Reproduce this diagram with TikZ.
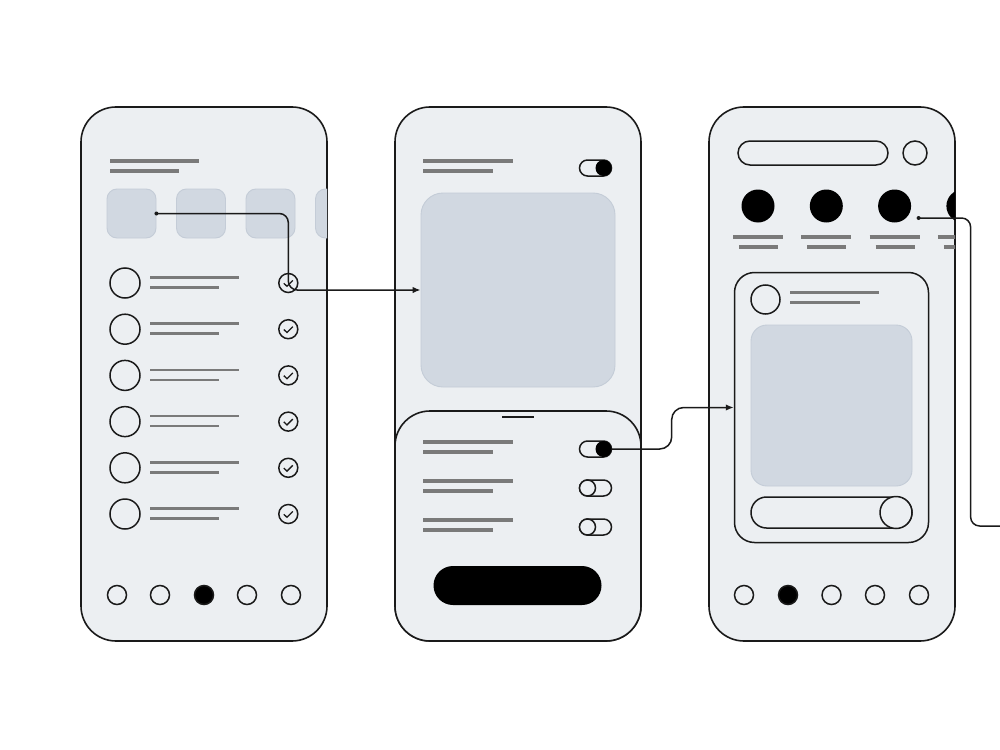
\documentclass[tikz,border=0pt]{standalone}
\usepackage{xcolor}
\usetikzlibrary{arrows.meta,positioning}
\definecolor{screenbg}{HTML}{ECEFF2}
\definecolor{ink}{HTML}{1A1A1A}
\definecolor{textgray}{HTML}{7A7A7A}
\definecolor{tilefill}{HTML}{D1D8E1}
\definecolor{tileedge}{HTML}{C4CCD7}

\begin{document}
\begin{tikzpicture}[
  x=1pt, y=-1pt,
  phone/.style={draw=ink, fill=screenbg, line width=1.6pt, rounded corners=35pt, minimum width=246pt, minimum height=534pt, inner sep=0pt, outer sep=0pt},
  tile/.style={fill=tilefill, draw=tileedge, line width=0.9pt, inner sep=0pt},
  ring/.style={circle, draw=ink, line width=1.5pt, inner sep=0pt},
  dotfill/.style={circle, fill=black, inner sep=0pt},
  pill/.style={draw=ink, line width=1.5pt, inner sep=0pt},
  bar/.style={draw=textgray, line width=3.3pt},
  thinbar/.style={draw=textgray, line width=2.7pt},
  link/.style={draw=ink, line width=1.5pt, rounded corners=9pt},
  arrow/.style={link, -{Latex[length=8pt, width=6.5pt]}}
]
\useasboundingbox[fill=white] (0,0) rectangle (1000,749);

% three screens
\node[phone] (list) at (204,374) {};
\node[phone, right=68pt of list] (detail) {};
\node[phone, right=68pt of detail] (feed) {};

% screen 1: list
\begin{scope}
  \clip[rounded corners=35pt] (list.north west) rectangle (list.south east);
  \draw[bar] (110,161) -- (199,161);
  \draw[bar] (110,171) -- (179,171);
  \foreach \i in {1,...,4}
    \node[tile, rounded corners=10pt, minimum width=49pt, minimum height=49pt] (thumb\i) at (131.5+69.5*\i-69.5,213.5) {};
  \foreach \i in {1,...,6} {
    \pgfmathsetmacro\yy{283+46.2*(\i-1)}
    \node[ring, minimum size=30pt] (avatar\i) at (125,\yy) {};
    \draw[thinbar] (150,\yy-5.5) -- (239,\yy-5.5);
    \draw[thinbar] (150,\yy+4.5) -- (219,\yy+4.5);
    \node[ring, minimum size=19pt] (check\i) at (288.3,\yy) {};
    \draw[ink, line width=1.3pt] (283.8,\yy+0.3) -- (287,\yy+3.3) -- (292.8,\yy-2.5);
  }
  \foreach \xx/\st [count=\i] in {117/screenbg,160/screenbg,204/black,247/screenbg,291/screenbg}
    \node[ring, fill=\st, minimum size=19pt] (listnav\i) at (\xx,595) {};
\end{scope}

% screen 2: detail with settings sheet
\draw[bar] (423,161) -- (513,161);
\draw[bar] (423,171) -- (493,171);
\node[pill, rounded corners=8pt, minimum width=32pt, minimum height=16pt] (modeswitch) at (595.5,168) {};
\node[dotfill, minimum size=16pt] (modeknob) at (603.5,168) {};
\node[tile, rounded corners=22pt, minimum width=194pt, minimum height=194pt] (cover) at (518,290) {};
\draw[draw=ink, fill=screenbg, line width=1.6pt, rounded corners=35pt] (395,411) rectangle (641,641);
\draw[ink, line width=2.8pt] (502,417) -- (534,417);
\foreach \yy/\on [count=\i] in {449/1,488/0,527/0} {
  \draw[bar] (423,\yy-7) -- (513,\yy-7);
  \draw[bar] (423,\yy+3) -- (493,\yy+3);
  \node[pill, rounded corners=8pt, minimum width=32pt, minimum height=16pt] (switch\i) at (595.5,\yy) {};
  \ifnum\on=1
    \node[dotfill, minimum size=16pt] (knob\i) at (603.5,\yy) {};
  \else
    \node[ring, fill=screenbg, minimum size=16pt] (knob\i) at (587.5,\yy) {};
  \fi
}
\node[fill=black, rounded corners=19.5pt, minimum width=168pt, minimum height=39pt, inner sep=0pt] (savebtn) at (517.5,585.5) {};

% screen 3: feed
\node[pill, rounded corners=12pt, minimum width=150pt, minimum height=24pt] (search) at (813,153) {};
\node[ring, minimum size=24pt] (profile) at (915,153) {};
\begin{scope}
  \clip[rounded corners=35pt] (feed.north west) rectangle (feed.south east);
  \foreach \i in {1,...,4} {
    \pgfmathsetmacro\xx{758+68.3*(\i-1)}
    \node[dotfill, minimum size=33pt] (story\i) at (\xx,206) {};
    \draw[bar] (\xx-25,237) -- (\xx+25,237);
    \draw[bar] (\xx-19,247) -- (\xx+20,247);
  }
\end{scope}
\node[draw=ink, line width=1.5pt, rounded corners=20pt, minimum width=194pt, minimum height=270pt, inner sep=0pt] (post) at (831.5,407.5) {};
\node[ring, minimum size=29pt] (author) at (765.5,299.5) {};
\draw[bar] (790,292.5) -- (879,292.5);
\draw[bar] (790,302.5) -- (860,302.5);
\node[tile, rounded corners=16pt, minimum width=161pt, minimum height=161pt] (photo) at (831.5,405.5) {};
\node[pill, rounded corners=15.5pt, minimum width=161pt, minimum height=31pt] (reply) at (831.5,512.5) {};
\node[ring, fill=screenbg, minimum size=32pt] (sendbtn) at (896,512.5) {};
\foreach \xx/\st [count=\i] in {744/screenbg,788/black,831.5/screenbg,875/screenbg,919/screenbg}
  \node[ring, fill=\st, minimum size=19pt] (feednav\i) at (\xx,595) {};

% flows
\fill[ink] (thumb1.east) circle (2pt);
\draw[arrow] (thumb1.east) -| (check1.center |- cover.west) -- (cover.west);
\draw[arrow, rounded corners=12pt] (knob1.east) -- ++(60,0) |- (post.west);
\coordinate (storytap) at ([xshift=24pt, yshift=-12pt]story3.center);
\coordinate (offscreen) at (1006,526);
\fill[ink] (storytap) circle (2pt);
\draw[link] (storytap) -- ++(52,0) |- (offscreen);
\end{tikzpicture}
\end{document}
